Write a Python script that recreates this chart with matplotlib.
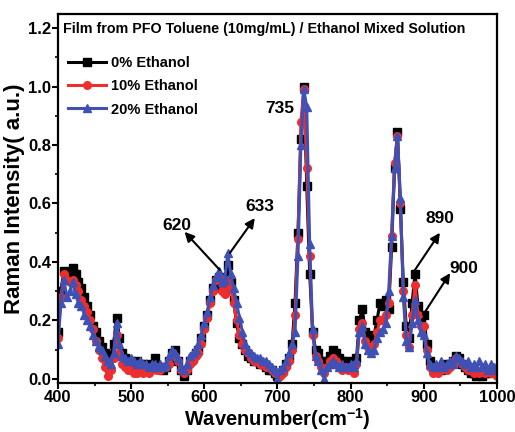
import numpy as np
import matplotlib
matplotlib.use("Agg")
import matplotlib.pyplot as plt
from matplotlib.ticker import MultipleLocator

plt.rcParams['font.family'] = ['Liberation Sans', 'DejaVu Sans']
plt.rcParams['font.weight'] = 'bold'
plt.rcParams['mathtext.fontset'] = 'custom'
plt.rcParams['mathtext.rm'] = 'Liberation Sans:bold'
plt.rcParams['mathtext.bf'] = 'Liberation Sans:bold'

# sampling grid of the spectra, cm^-1
wavenumber = np.arange(400, 1001, 4)

ethanol_0 = [
    0.16, 0.30, 0.37, 0.35, 0.36, 0.38, 0.36, 0.33, 0.31, 0.28,
    0.25, 0.22, 0.18, 0.16, 0.13, 0.11, 0.09, 0.07, 0.08, 0.12,
    0.21, 0.14, 0.09, 0.07, 0.06, 0.06, 0.05, 0.06, 0.05, 0.05,
    0.04, 0.05, 0.04, 0.07, 0.04, 0.04, 0.03, 0.04, 0.06, 0.09,
    0.10, 0.06, 0.03, 0.01, 0.03, 0.06, 0.07, 0.09, 0.10, 0.14,
    0.18, 0.22, 0.27, 0.31, 0.34, 0.35, 0.31, 0.30, 0.39, 0.33,
    0.27, 0.19, 0.14, 0.12, 0.10, 0.08, 0.07, 0.06, 0.06, 0.05,
    0.05, 0.04, 0.03, 0.03, 0.02, 0.01, 0.02, 0.03, 0.05, 0.07,
    0.12, 0.26, 0.50, 0.82, 1.00, 0.66, 0.36, 0.16, 0.10, 0.09,
    0.06, 0.04, 0.06, 0.08, 0.10, 0.09, 0.07, 0.06, 0.05, 0.06,
    0.05, 0.05, 0.07, 0.20, 0.24, 0.16, 0.13, 0.14, 0.15, 0.20,
    0.26, 0.25, 0.27, 0.24, 0.45, 0.72, 0.845, 0.58, 0.33, 0.18,
    0.14, 0.26, 0.36, 0.25, 0.21, 0.22, 0.12, 0.06, 0.04, 0.03,
    0.04, 0.03, 0.05, 0.04, 0.05, 0.06, 0.08, 0.07, 0.05, 0.04,
    0.03, 0.02, 0.02, 0.01, 0.02, 0.01, 0.02, 0.03, 0.02, 0.03,
    0.02]

ethanol_10 = [
    0.14, 0.28, 0.36, 0.34, 0.33, 0.34, 0.32, 0.30, 0.27, 0.25,
    0.23, 0.20, 0.17, 0.13, 0.10, 0.07, 0.04, 0.01, 0.03, 0.07,
    0.15, 0.09, 0.05, 0.04, 0.03, 0.03, 0.02, 0.02, 0.03, 0.02,
    0.03, 0.02, 0.03, 0.04, 0.03, 0.03, 0.04, 0.04, 0.05, 0.08,
    0.08, 0.06, 0.03, 0.02, 0.03, 0.05, 0.06, 0.08, 0.09, 0.12,
    0.17, 0.21, 0.26, 0.30, 0.34, 0.35, 0.30, 0.29, 0.34, 0.31,
    0.26, 0.20, 0.15, 0.12, 0.10, 0.09, 0.07, 0.06, 0.06, 0.05,
    0.05, 0.04, 0.04, 0.03, 0.02, 0.02, 0.01, 0.02, 0.04, 0.06,
    0.10, 0.22, 0.48, 0.88, 0.99, 0.72, 0.42, 0.15, 0.08, 0.06,
    0.04, 0.02, 0.04, 0.06, 0.07, 0.06, 0.04, 0.03, 0.04, 0.03,
    0.03, 0.02, 0.05, 0.17, 0.19, 0.13, 0.11, 0.11, 0.12, 0.16,
    0.20, 0.20, 0.22, 0.26, 0.49, 0.74, 0.83, 0.60, 0.30, 0.15,
    0.11, 0.22, 0.32, 0.22, 0.18, 0.18, 0.10, 0.04, 0.02, 0.03,
    0.02, 0.03, 0.04, 0.03, 0.04, 0.05, 0.07, 0.06, 0.05, 0.04,
    0.03, 0.03, 0.02, 0.03, 0.02, 0.03, 0.02, 0.03, 0.02, 0.02,
    0.01]

ethanol_20 = [
    0.12, 0.26, 0.34, 0.28, 0.30, 0.33, 0.29, 0.26, 0.25, 0.22,
    0.20, 0.18, 0.15, 0.13, 0.11, 0.10, 0.08, 0.06, 0.05, 0.09,
    0.19, 0.12, 0.08, 0.07, 0.06, 0.07, 0.06, 0.05, 0.06, 0.05,
    0.05, 0.04, 0.05, 0.05, 0.04, 0.05, 0.04, 0.05, 0.08, 0.10,
    0.09, 0.07, 0.04, 0.03, 0.05, 0.08, 0.09, 0.10, 0.12, 0.15,
    0.19, 0.23, 0.28, 0.32, 0.35, 0.37, 0.33, 0.34, 0.43, 0.36,
    0.31, 0.26, 0.21, 0.16, 0.12, 0.10, 0.09, 0.08, 0.07, 0.07,
    0.06, 0.06, 0.05, 0.04, 0.03, 0.00, 0.03, 0.04, 0.06, 0.09,
    0.12, 0.16, 0.42, 0.80, 0.99, 0.93, 0.46, 0.17, 0.08, 0.06,
    0.03, 0.00, 0.04, 0.05, 0.06, 0.05, 0.04, 0.05, 0.04, 0.04,
    0.05, 0.04, 0.06, 0.16, 0.18, 0.12, 0.10, 0.09, 0.10, 0.14,
    0.16, 0.17, 0.19, 0.30, 0.49, 0.72, 0.83, 0.62, 0.28, 0.13,
    0.11, 0.19, 0.27, 0.20, 0.16, 0.15, 0.09, 0.05, 0.04, 0.05,
    0.04, 0.06, 0.04, 0.05, 0.06, 0.05, 0.08, 0.07, 0.06, 0.05,
    0.06, 0.04, 0.05, 0.04, 0.06, 0.04, 0.05, 0.03, 0.05, 0.04,
    0.03]

series_labels = ['0% Ethanol', '10% Ethanol', '20% Ethanol']
series_colors = ['#000000', '#ee2e2e', '#3f51b5']
series_markers = ['s', 'o', '^']

peak_labels = ['735', '620', '633', '890', '900']

fig = plt.figure(figsize=(5.15, 4.32), dpi=100)
ax = fig.add_axes([0.1126, 0.1134, 0.8524, 0.8542])

for vals, lab, col, mk in zip([ethanol_0, ethanol_10, ethanol_20],
                              series_labels, series_colors, series_markers):
    ax.plot(wavenumber, vals, color=col, marker=mk, markersize=5.5,
            linewidth=2.2, label=lab)

ax.set_xlim(400, 1000)
ax.set_ylim(-0.014, 1.248)
ax.xaxis.set_major_locator(MultipleLocator(100))
ax.xaxis.set_minor_locator(MultipleLocator(50))
ax.yaxis.set_major_locator(MultipleLocator(0.2))
ax.yaxis.set_minor_locator(MultipleLocator(0.1))
ax.yaxis.set_major_formatter(matplotlib.ticker.FormatStrFormatter('%.1f'))
ax.tick_params(which='major', direction='out', length=4, width=1.5,
               labelsize=12, pad=1)
ax.tick_params(which='minor', direction='out', length=2.5, width=1.2)
for s in ax.spines.values():
    s.set_linewidth(1.6)

ax.set_xlabel('Wavenumber(cm$^{-1}$)', fontsize=14.5, fontweight='bold',
              labelpad=0.5)
ax.set_ylabel('Raman Intensity( a.u.)', fontsize=16, fontweight='bold',
              labelpad=2)

ax.text(406.5, 1.197, 'Film from PFO Toluene (10mg/mL) / Ethanol Mixed Solution',
        fontsize=10.3, fontweight='bold', ha='left', va='center')

ax.legend(loc='upper left', bbox_to_anchor=(0.022, 0.885), frameon=False,
          fontsize=10.5, handlelength=2.6, handletextpad=0.35,
          labelspacing=0.62, borderaxespad=0, borderpad=0)

# peak labels
ax.text(703, 0.926, peak_labels[0], fontsize=12.5, fontweight='bold',
        ha='center', va='center')
ax.text(562, 0.526, peak_labels[1], fontsize=12.5, fontweight='bold',
        ha='center', va='center')
ax.text(676, 0.588, peak_labels[2], fontsize=12.5, fontweight='bold',
        ha='center', va='center')
ax.text(922, 0.548, peak_labels[3], fontsize=12.5, fontweight='bold',
        ha='center', va='center')
ax.text(954, 0.376, peak_labels[4], fontsize=12.5, fontweight='bold',
        ha='center', va='center')

arrow = dict(arrowstyle='-|>', color='k', lw=1.5, mutation_scale=14,
             shrinkA=0, shrinkB=0)
ax.annotate('', xy=(573, 0.503), xytext=(621, 0.373), arrowprops=arrow)
ax.annotate('', xy=(669, 0.55), xytext=(635, 0.431), arrowprops=arrow)
ax.annotate('', xy=(922, 0.50), xytext=(885, 0.362), arrowprops=arrow)
ax.annotate('', xy=(936, 0.362), xytext=(899, 0.219), arrowprops=arrow)

fig.savefig('out.png', dpi=100)
